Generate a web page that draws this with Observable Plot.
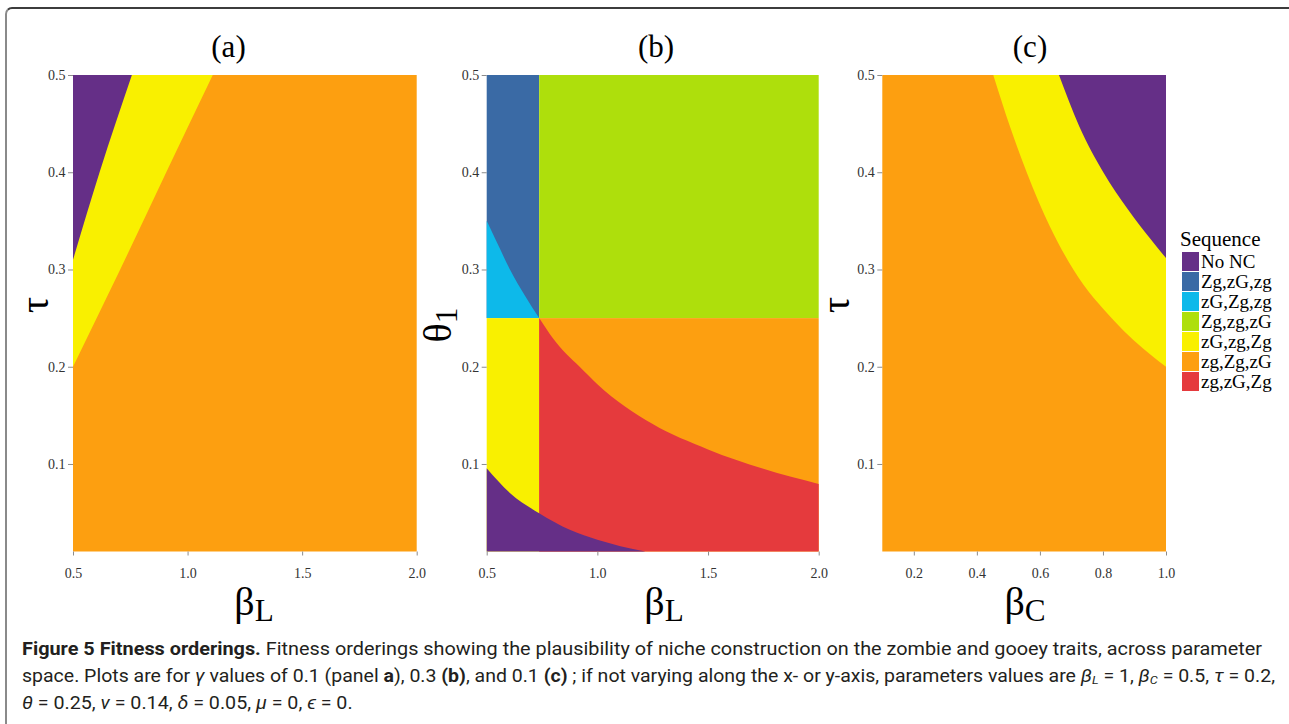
<!DOCTYPE html>
<html>
<head>
<meta charset="utf-8">
<script src="https://cdn.jsdelivr.net/npm/d3@7"></script>
<script src="https://cdn.jsdelivr.net/npm/@observablehq/plot@0.6"></script>
<style>
  body { margin: 0; background: #fff; }
  #fig { position: relative; width: 1289px; height: 724px; overflow: hidden; background: #fff;
         font-family: "Liberation Serif", "Times New Roman", serif; color: #000; }
  #fig svg text { font-family: "Liberation Serif", "Times New Roman", serif !important; font-size: 14px !important; }
  .abs { position: absolute; white-space: nowrap; line-height: 1; }
  .ctr { transform: translate(-50%, -50%); }
  .frame { position: absolute; left: 5px; top: 7px; width: 1400px; height: 900px;
           border-top: 2px solid #3c3c3c; border-left: 2px solid #8a8a8a; border-top-left-radius: 7px; }
  .title { font-size: 31px; }
  .axlab { font-size: 40px; }
  .axlab sub { font-size: 0.78em; vertical-align: -0.2em; }
  .caption { position: absolute; left: 22px; font-family: "Roboto", "Open Sans", sans-serif;
             font-size: 18px; color: #231f20; white-space: nowrap; transform-origin: 0 0; line-height: 1; }
  .caption i { font-style: italic; }
  .caption sub { font-size: 0.65em; vertical-align: -0.2em; font-style: italic; }
</style>
</head>
<body>
<div id="fig"><div class="frame"></div></div>
<script>
// ---------- data ----------
const sequences = ["No NC", "Zg,zG,zg", "zG,Zg,zg", "Zg,zg,zG", "zG,zg,Zg", "zg,Zg,zG", "zg,zG,Zg"];
const sequenceColors = ["#652F87", "#3A6AA5", "#0DB9EA", "#AEDF0C", "#F9F000", "#FD9F10", "#E53A3D"];

const yTicks = [0.1, 0.2, 0.3, 0.4, 0.5];
const betaLTicks = [0.5, 1.0, 1.5, 2.0];
const betaCTicks = [0.2, 0.4, 0.6, 0.8, 1.0];

// Panel (a): beta_L vs tau
const aBetaRange = [0.5, 2.0];
const aTauRange = [0.01, 0.5];
const aYellowEdgeBeta = [0.5, 0.706, 0.907, 1.11];
const aYellowEdgeTau  = [0.2, 0.3, 0.4, 0.5];
const aPurpleEdgeBeta = [0.5, 0.616, 0.757];
const aPurpleEdgeTau  = [0.31, 0.4, 0.5];

// Panel (b): beta_L vs theta_1
const bBetaRange = [0.5, 2.0];
const bThetaRange = [0.01, 0.5];
const bBetaSplit = 0.737;
const bThetaSplit = 0.25;
const bCyanEdgeBeta  = [0.5, 0.548, 0.605, 0.673, 0.737];
const bCyanEdgeTheta = [0.35, 0.327, 0.3, 0.273, 0.25];
const bRedEdgeBeta  = [0.737, 0.8, 0.86, 0.92, 1.0, 1.25, 1.5, 1.75, 2.0];
const bRedEdgeTheta = [0.25, 0.229, 0.213, 0.2, 0.182, 0.141, 0.115, 0.095, 0.0795];
const bPurpleEdgeBeta  = [0.5, 0.606, 0.737, 0.878, 1.0, 1.104, 1.2175];
const bPurpleEdgeTheta = [0.0955, 0.0699, 0.0493, 0.032, 0.022, 0.0155, 0.01];

// Panel (c): beta_C vs tau
const cBetaRange = [0.1, 1.0];
const cTauRange = [0.01, 0.5];
const cYellowEdgeBeta = [0.452, 0.505, 0.558, 0.632, 0.706, 0.833, 0.96, 1.0];
const cYellowEdgeTau  = [0.5, 0.447, 0.4, 0.344, 0.3, 0.248, 0.21, 0.2];
const cPurpleEdgeBeta = [0.6605, 0.725, 0.801, 0.88, 0.949, 1.0];
const cPurpleEdgeTau  = [0.5, 0.447, 0.4, 0.3615, 0.332, 0.3117];

// ---------- helpers ----------
const fig = document.getElementById("fig");
const serif = "Liberation Serif";

function above(xs, ys, top, seq) { return xs.map((x, i) => ({x, lo: ys[i], hi: top, seq})); }
function below(xs, ys, bottom, seq) { return xs.map((x, i) => ({x, lo: bottom, hi: ys[i], seq})); }

function panel({left, width, marginLeft, marginRight, xDomain, yDomain, xTicks, rects, areas}) {
  const svg = Plot.plot({
    width, height: 600,
    marginLeft, marginRight, marginTop: 75, marginBottom: 48.5,
    x: {domain: xDomain},
    y: {domain: yDomain},
    color: {domain: sequences, range: sequenceColors},
    style: {background: "transparent", overflow: "visible"},
    marks: [
      Plot.rect(rects, {x1: "x1", x2: "x2", y1: "y1", y2: "y2", fill: "seq"}),
      ...areas.map(a => Plot.areaY(a, {x: "x", y1: "lo", y2: "hi", fill: "seq", curve: "monotone-x"})),
      Plot.axisX({ticks: xTicks, tickFormat: d3.format(".1f"), tickSize: 4, tickPadding: 12,
                  stroke: "#8c8c8c", fill: "#333", fontSize: 14, fontFamily: serif, label: null}),
      Plot.axisY({ticks: yTicks, tickFormat: d3.format(".1f"), tickSize: 5, tickPadding: 3,
                  stroke: "#8c8c8c", fill: "#333", fontSize: 14, fontFamily: serif, label: null})
    ]
  });
  svg.style.position = "absolute";
  svg.style.left = left + "px";
  svg.style.top = "0px";
  fig.appendChild(svg);
}

// Panel (a)
panel({
  left: 0, width: 440, marginLeft: 73, marginRight: 23.3,
  xDomain: aBetaRange, yDomain: aTauRange, xTicks: betaLTicks,
  rects: [{x1: aBetaRange[0], x2: aBetaRange[1], y1: aTauRange[0], y2: aTauRange[1], seq: "zg,Zg,zG"}],
  areas: [
    above(aYellowEdgeBeta, aYellowEdgeTau, aTauRange[1], "zG,zg,Zg"),
    above(aPurpleEdgeBeta, aPurpleEdgeTau, aTauRange[1], "No NC")
  ]
});

// Panel (b)
panel({
  left: 430, width: 410, marginLeft: 56.7, marginRight: 21.3,
  xDomain: bBetaRange, yDomain: bThetaRange, xTicks: betaLTicks,
  rects: [
    {x1: bBetaRange[0], x2: bBetaSplit, y1: bThetaSplit, y2: bThetaRange[1], seq: "Zg,zG,zg"},
    {x1: bBetaSplit, x2: bBetaRange[1], y1: bThetaSplit, y2: bThetaRange[1], seq: "Zg,zg,zG"},
    {x1: bBetaRange[0], x2: bBetaSplit, y1: bThetaRange[0], y2: bThetaSplit, seq: "zG,zg,Zg"},
    {x1: bBetaSplit, x2: bBetaRange[1], y1: bThetaRange[0], y2: bThetaSplit, seq: "zg,Zg,zG"}
  ],
  areas: [
    below(bCyanEdgeBeta, bCyanEdgeTheta, bThetaSplit, "zG,Zg,zg"),
    below(bRedEdgeBeta, bRedEdgeTheta, bThetaRange[0], "zg,zG,Zg"),
    below(bPurpleEdgeBeta, bPurpleEdgeTheta, bThetaRange[0], "No NC")
  ]
});

// Panel (c)
panel({
  left: 840, width: 340, marginLeft: 42.3, marginRight: 14,
  xDomain: cBetaRange, yDomain: cTauRange, xTicks: betaCTicks,
  rects: [{x1: cBetaRange[0], x2: cBetaRange[1], y1: cTauRange[0], y2: cTauRange[1], seq: "zg,Zg,zG"}],
  areas: [
    above(cYellowEdgeBeta, cYellowEdgeTau, cTauRange[1], "zG,zg,Zg"),
    above(cPurpleEdgeBeta, cPurpleEdgeTau, cTauRange[1], "No NC")
  ]
});

// ---------- text ----------
function addText(html, cls, x, y, extra) {
  const d = document.createElement("div");
  d.className = "abs " + cls;
  d.innerHTML = html;
  d.style.left = x + "px";
  d.style.top = y + "px";
  if (extra) Object.assign(d.style, extra);
  fig.appendChild(d);
  return d;
}
addText("(a)", "title ctr", 228.5, 46);
addText("(b)", "title ctr", 656, 46);
addText("(c)", "title ctr", 1030, 46);

addText("β<sub>L</sub>", "axlab ctr", 254, 604);
addText("β<sub>L</sub>", "axlab ctr", 664, 604);
addText("β<sub>C</sub>", "axlab ctr", 1025, 604);

addText("τ", "axlab", 35, 305, {transform: "translate(-50%,-50%) rotate(-90deg)"});
addText("θ<sub>1</sub>", "axlab", 440, 325, {transform: "translate(-50%,-50%) rotate(-90deg)"});
addText("τ", "axlab", 836, 305, {transform: "translate(-50%,-50%) rotate(-90deg)"});

// legend
const colorScale = Plot.scale({color: {domain: sequences, range: sequenceColors}});
addText("Sequence", "", 1180, 229, {fontSize: "21px"});
sequences.forEach((s, i) => {
  const sw = document.createElement("div");
  Object.assign(sw.style, {position: "absolute", left: "1182px", top: (251.5 + 20 * i) + "px",
    width: "17px", height: "19px", background: colorScale.apply(s)});
  fig.appendChild(sw);
  addText(s, "", 1201, 251.5 + 20 * i, {fontSize: "19px", lineHeight: "20px"});
});

// caption
const capLines = [
  {html: "<b>Figure 5 Fitness orderings.</b> Fitness orderings showing the plausibility of niche construction on the zombie and gooey traits, across parameter", top: 640, right: 1262},
  {html: "space. Plots are for <i>γ</i> values of 0.1 (panel <b>a</b>), 0.3 <b>(b)</b>, and 0.1 <b>(c)</b> ; if not varying along the x- or y-axis, parameters values are <i>β</i><sub>L</sub> = 1, <i>β</i><sub>C</sub> = 0.5, <i>τ</i> = 0.2,", top: 667, right: 1275},
  {html: "<i>θ</i> = 0.25, <i>ν</i> = 0.14, <i>δ</i> = 0.05, <i>μ</i> = 0, <i>ϵ</i> = 0.", top: 694, right: null}
];
const capDivs = capLines.map(l => {
  const d = document.createElement("div");
  d.className = "caption";
  d.innerHTML = l.html;
  d.style.top = l.top + "px";
  fig.appendChild(d);
  return d;
});
const capScales = capLines.map((l, i) => l.right ? (l.right - 22) / capDivs[i].getBoundingClientRect().width : null);
const meanScale = (capScales[0] + capScales[1]) / 2;
capDivs.forEach((d, i) => { d.style.transform = `scaleX(${capScales[i] || meanScale})`; });
</script>
</body>
</html>
